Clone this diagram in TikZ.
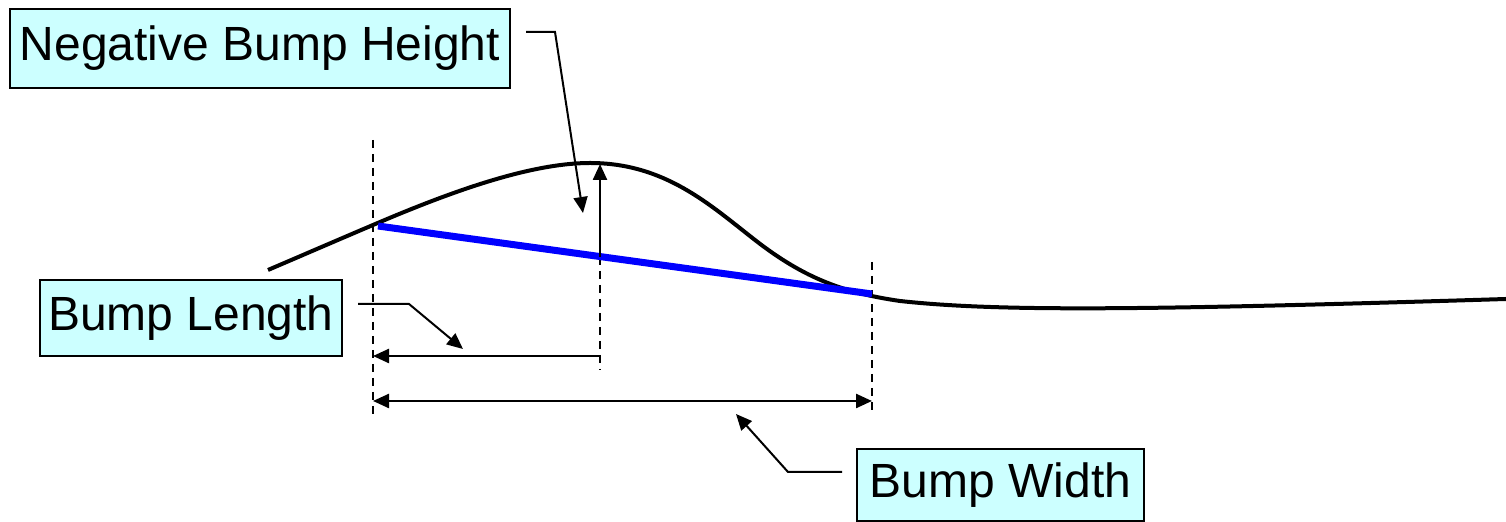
\documentclass[tikz,border=0pt]{standalone}
\usepackage{fontspec}
\setmainfont{Liberation Sans}
\usetikzlibrary{arrows.meta,calc}
\definecolor{lblfill}{HTML}{CCFFFF}
\definecolor{chordblue}{HTML}{0000FF}
\tikzset{
  lbox/.style={draw=black, fill=lblfill, line width=1pt, inner sep=0pt,
    font=\fontsize{24}{28}\selectfont},
  profile/.style={line width=2pt, draw=black},
  chord/.style={line width=3.5pt, draw=chordblue},
  guide/.style={dashed, dash pattern=on 4pt off 3pt, line width=1pt},
  dimline/.style={line width=1.2pt, -{Triangle[length=8pt,width=7pt]}},
  leader/.style={line width=1pt, -{Triangle[length=8pt,width=7pt]}},
}

\begin{document}
\begin{tikzpicture}[x=0.5pt,y=-0.5pt]
  \useasboundingbox (0,0) rectangle (1506,522);
  % labels
  \node[lbox, minimum width=250pt, minimum height=39.5pt] (nbh) at (260,48.5)
    {Negative Bump Height};
  \node[lbox, minimum width=151pt, minimum height=38pt] (blen) at (191,318)
    {Bump Length};
  \node[lbox, minimum width=143.5pt, minimum height=36pt] (bwid) at (1000.5,485)
    {Bump Width};
  % key points
  \coordinate (bstart) at (373,226);
  \coordinate (bend) at (872,294);
  \coordinate (peak) at (600,164);
  \coordinate (mid) at (600,257);
  % guides
  \draw[guide] (373,140) -- (373,418);
  \draw[guide] (mid) -- (600,370);
  \draw[guide] (872,262) -- (872,412);
  % road profile and chord
  \draw[profile] (268,270) .. controls (310,252) and (340,239) .. (373,225)
    .. controls (450,192) and (530,163) .. (590,163)
    .. controls (665,163) and (710,205) .. (755,240)
    .. controls (805,279) and (845,293) .. (900,301)
    .. controls (1000,312) and (1150,310) .. (1506,299);
  \draw[chord] (378,226) -- (bend);
  % dimensions
  \draw[dimline] (mid) -- (peak);
  \coordinate (lenr) at (600,356);
  \coordinate (lenl) at (373,356);
  \draw[dimline] (lenr) -- (lenl);
  \coordinate (widl) at (373,401);
  \coordinate (widr) at (872,401);
  \draw[dimline, {Triangle[length=8pt,width=7pt]}-{Triangle[length=8pt,width=7pt]}] (widl) -- (widr);
  % leaders
  \coordinate (nbhtip) at (583,213);
  \draw[leader] ($(nbh.east)+(15,-16.5)$) -- ++(29,0) -- (nbhtip);
  \coordinate (blentip) at (463,349);
  \draw[leader] ($(blen.east)+(15,-14)$) -- ++(51,0) -- (blentip);
  \coordinate (bwidtip) at (736,414);
  \draw[leader] ($(bwid.west)+(-14,-13)$) -- ++(-54,0) -- (bwidtip);
\end{tikzpicture}
\end{document}
